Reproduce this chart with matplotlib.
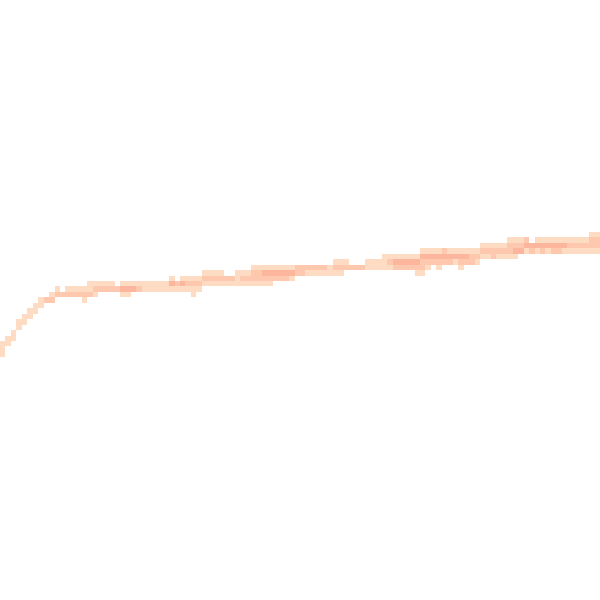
import numpy as np
import matplotlib
matplotlib.use('Agg')
import matplotlib.pyplot as plt
from matplotlib.colors import ListedColormap, BoundaryNorm

# density bins: for each x-bin, the first y-bin (counted from the top)
# and the density level (1 light .. 3 dark) of the bins going down from it
col_top = [62, 61, 60, 58, 57, 56, 55, 54, 54, 53,
           52, 53, 52, 52, 52, 52, 51, 51, 51, 51,
           51, 52, 51, 51, 51, 51, 51, 51, 51, 51,
           51, 50, 51, 50, 50, 50, 50, 49, 49, 49,
           49, 50, 50, 49, 49, 49, 48, 48, 48, 48,
           48, 48, 48, 48, 48, 48, 48, 48, 48, 48,
           48, 47, 47, 47, 48, 48, 48, 47, 47, 47,
           46, 46, 46, 46, 46, 46, 46, 45, 45, 45,
           45, 45, 45, 45, 45, 45, 45, 45, 44, 44,
           44, 44, 44, 43, 43, 43, 43, 44, 43, 43,
           43, 43, 43, 43, 43, 43, 43, 43, 42, 42]
col_levels = ["111", "11", "11", "11", "11", "11", "11", "11", "2", "12",
              "12", "2", "12", "12", "12", "121", "112", "121", "12", "12",
              "12", "2", "131", "131", "13", "12", "11", "11", "11", "11",
              "11", "131", "21", "131", "121", "1211", "121", "121", "121", "121",
              "121", "21", "21", "111", "121", "121", "1221", "1221", "1321", "1321",
              "132", "132", "132", "131", "22", "22", "21", "21", "21", "21",
              "11", "121", "121", "12", "2", "2", "2", "11", "11", "11",
              "111", "121", "132", "132", "132", "132", "1321", "13221", "1321", "132",
              "1321", "232", "132", "131", "1321", "132", "122", "121", "121", "121",
              "122", "121", "121", "1221", "1231", "123", "231", "32", "131", "132",
              "131", "132", "132", "131", "121", "121", "121", "121", "1221", "1221"]

n_bins = 110
level_colors = ['#fedcc4', '#fdc8ae', '#fcb69d']

counts = np.zeros((n_bins, n_bins))
for c in range(len(col_top)):
    for i, ch in enumerate(col_levels[c]):
        counts[col_top[c] + i, c] = int(ch)
counts = np.ma.masked_equal(counts, 0)

cmap = ListedColormap(level_colors)
norm = BoundaryNorm([0.5, 1.5, 2.5, 3.5], cmap.N)

fig = plt.figure(figsize=(6, 6), dpi=100)
ax = fig.add_axes([0, 0, 1, 1])
ax.pcolormesh(np.arange(n_bins + 1), np.arange(n_bins + 1), counts,
              cmap=cmap, norm=norm, edgecolors='none', antialiased=False)
ax.set_xlim(0, n_bins)
ax.set_ylim(n_bins - 0.517, -0.517)
ax.axis('off')
fig.savefig('out.png', dpi=100, facecolor='white')
